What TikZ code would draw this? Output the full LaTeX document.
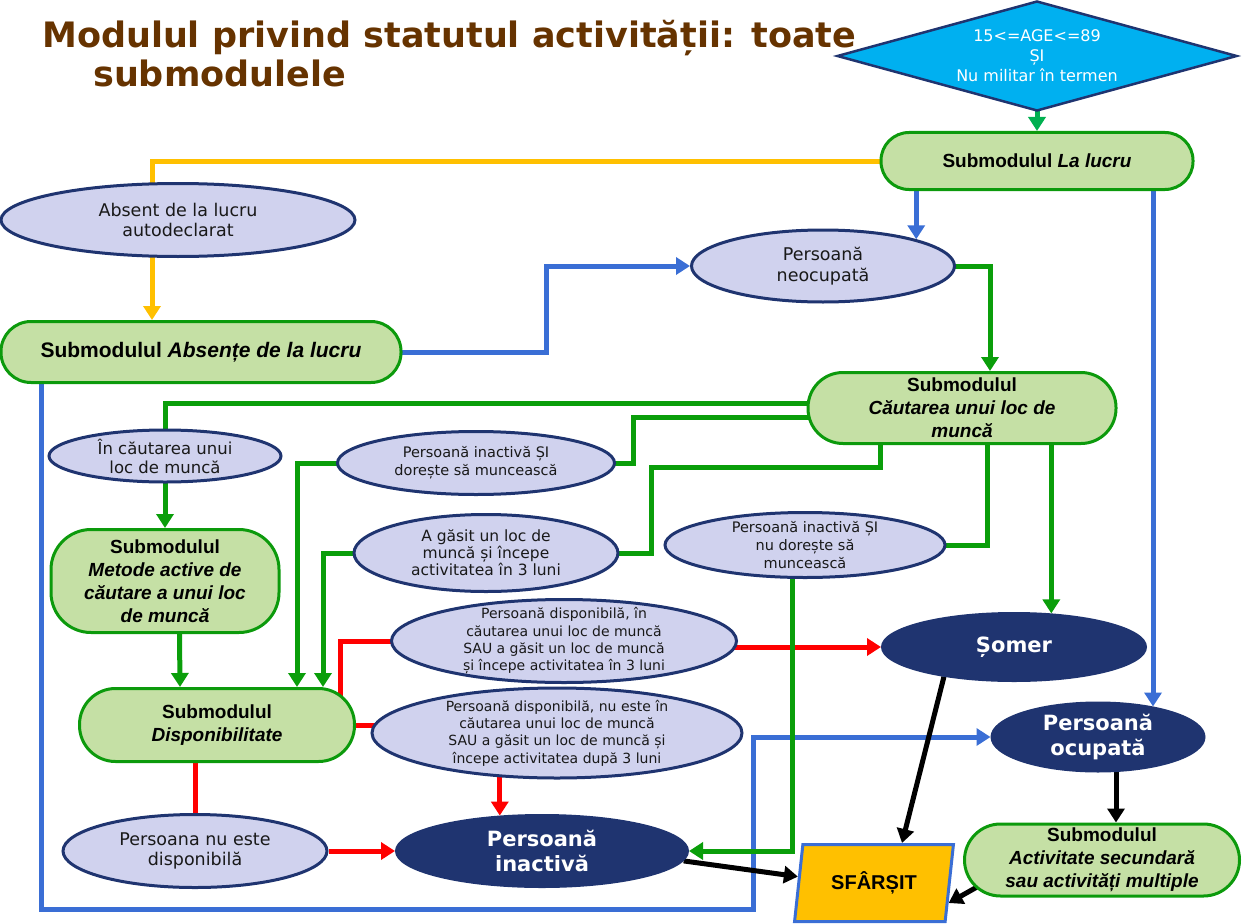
\documentclass[tikz,border=0pt]{standalone}
\usepackage{fontspec}
\setmainfont{DejaVu Sans}
\newfontfamily\arialfont{Liberation Sans}
\usetikzlibrary{shapes.geometric,arrows.meta,calc,backgrounds}
\definecolor{navy}{HTML}{1F3470}
\definecolor{lav}{HTML}{D0D2EE}
\definecolor{subfill}{HTML}{C5E0A5}
\definecolor{subline}{HTML}{0C9A0C}
\definecolor{gline}{HTML}{0A9E0A}
\definecolor{sea}{HTML}{00B050}
\definecolor{bline}{HTML}{3A6ED5}
\definecolor{yline}{HTML}{FFC000}
\definecolor{rline}{HTML}{FF0000}
\definecolor{sky}{HTML}{00B0F0}
\definecolor{amber}{HTML}{FFC000}
\definecolor{brown}{HTML}{663300}
\tikzset{
  title/.style={anchor=north west, inner sep=0pt, align=left, text=brown, font=\fontsize{35}{39}\selectfont\bfseries},
  sub/.style={rectangle, rounded corners=#1, draw=subline, fill=subfill, line width=3pt, align=center, inner sep=0pt, font=\fontsize{19}{23}\selectfont\arialfont\bfseries},
  sub/.default=30pt,
  state/.style={ellipse, draw=navy, fill=lav, line width=3pt, align=center, inner sep=0pt, text=black!90, font=\fontsize{14.5}{18}\selectfont},
  result/.style={ellipse, draw=navy, fill=navy, line width=2pt, align=center, inner sep=0pt, text=white, font=\fontsize{21}{25}\selectfont\bfseries},
  cond/.style={diamond, aspect=3.6, draw=navy, fill=sky, line width=2.5pt, align=center, inner sep=0pt, text=white, minimum width=400pt, minimum height=110pt, font=\fontsize{16}{20}\selectfont},
  endbox/.style={trapezium, trapezium left angle=77.5, trapezium right angle=102.5, trapezium stretches=true, draw=bline, fill=amber, line width=3pt, inner sep=0pt, minimum width=160pt, minimum height=77pt, font=\fontsize{20}{24}\selectfont\arialfont\bfseries},
  arr/.style={-{Triangle[length=14pt,width=17pt]}},
  gpath/.style={draw=gline, line width=5pt},
  bpath/.style={draw=bline, line width=5pt},
  ypath/.style={draw=yline, line width=5pt},
  rpath/.style={draw=rline, line width=5pt},
  kpath/.style={draw=black, line width=5pt}
}
\begin{document}
\begin{tikzpicture}[x=1pt, y=-1pt]
  \useasboundingbox (0,0) rectangle (1244,923);
  \node[title] (title) at (42,20) {Modulul privind statutul activității: toate\\\hspace*{51pt}submodulele};

  \node[cond] (cond) at (1037,56) {15<=AGE<=89\\ȘI\\Nu militar în termen};
  \node[sub=28pt, minimum width=312pt, minimum height=57pt] (lucru) at (1037,161) {Submodulul \textit{La lucru}};
  \node[state, minimum width=354pt, minimum height=73pt, font=\fontsize{17.5}{20.5}\selectfont] (absent) at (178,220) {Absent de la lucru\\autodeclarat};
  \node[sub=30pt, minimum width=400pt, minimum height=61pt, font=\fontsize{21}{24}\selectfont\arialfont\bfseries] (absente) at (201,352) {Submodulul \textit{Absențe de la lucru}};
  \node[state, minimum width=263pt, minimum height=72pt, font=\fontsize{17.5}{20.5}\selectfont] (neocup) at (823,266) {Persoană\\neocupată};
  \node[sub=35pt, minimum width=308pt, minimum height=71pt] (cautare) at (962,408) {Submodulul\\\textit{Căutarea unui loc de}\\\textit{muncă}};
  \node[state, minimum width=232pt, minimum height=52pt, font=\fontsize{16.5}{19}\selectfont] (incaut) at (165,456) {În căutarea unui\\loc de muncă};
  \node[state, minimum width=277pt, minimum height=63pt] (dorest) at (476,463) {Persoană inactivă ȘI\\dorește să muncească};
  \node[sub=40pt, minimum width=228pt, minimum height=103pt] (metode) at (165,581) {Submodulul\\\textit{Metode active de}\\\textit{căutare a unui loc}\\\textit{de muncă}};
  \node[state, minimum width=264pt, minimum height=77pt, font=\fontsize{15.5}{17}\selectfont] (gasit) at (486,553) {A găsit un loc de\\muncă și începe\\activitatea în 3 luni};
  \node[state, minimum width=280pt, minimum height=65pt, inner ysep=-3.5pt] (nudor) at (805,545) {Persoană inactivă ȘI\\nu dorește să\\muncească};
  \node[state, minimum width=345pt, minimum height=83pt, inner ysep=-5pt, font=\fontsize{14}{17.3}\selectfont] (dispin) at (564,641) {Persoană disponibilă, în\\căutarea unui loc de muncă\\SAU a găsit un loc de muncă\\și începe activitatea în 3 luni};
  \node[result, minimum width=264pt, minimum height=68pt] (somer) at (1014,647) {Șomer};
  \node[sub=36pt, minimum width=275pt, minimum height=73pt] (dispon) at (217,725) {Submodulul\\\textit{Disponibilitate}};
  \node[state, minimum width=370pt, minimum height=90pt, inner ysep=-3pt, font=\fontsize{14}{17.4}\selectfont] (dispnu) at (557,733) {Persoană disponibilă, nu este în\\căutarea unui loc de muncă\\SAU a găsit un loc de muncă și\\începe activitatea după 3 luni};
  \node[result, minimum width=213pt, minimum height=69pt] (ocup) at (1098,737) {Persoană\\ocupată};
  \node[state, minimum width=264pt, minimum height=73pt, font=\fontsize{17.5}{20.5}\selectfont] (nudisp) at (195,851) {Persoana nu este\\disponibilă};
  \node[result, minimum width=292pt, minimum height=72pt] (inact) at (542,851) {Persoană\\inactivă};
  \node[endbox] (sfarsit) at (874,883) {SFÂRȘIT};
  \node[sub=36pt, minimum width=275pt, minimum height=72pt] (secund) at (1102,860) {Submodulul\\\textit{Activitate secundară}\\\textit{sau activități multiple}};

  \begin{scope}[on background layer]
    \draw[ypath] (lucru.center) -| ([xshift=-26pt]absent.center);
    \draw[ypath, arr] ([xshift=-26pt]absent.center) -- ([xshift=-49pt]absente.north);
    \draw[gpath, draw=sea, arr] (cond.center) -- (lucru.north);

    \draw[bpath, arr] (lucru.center -| neocup.16) -- (neocup.16);
    \draw[bpath, arr] (absente.center) -| ($(absente.east)!.5!(neocup.west)$) |- (neocup.west);
    \draw[bpath, arr] (lucru.center -| ocup.29) -- (ocup.29);
    \draw[bpath, arr] ([xshift=-160pt]absente.center) |- (753,909) |- (ocup.west);

    \draw[rpath] ([xshift=123pt]dispon.center) |- (dispin.center);
    \draw[rpath] (dispon.center) -- (dispon.center -| dispnu.center);
    \draw[rpath, arr] (dispin.center |- somer.west) -- (somer.west);
    \draw[rpath, arr] (dispnu.center -| inact.140) -- (inact.140);
    \draw[rpath] (dispon.center -| nudisp.north) -- (nudisp.north);
    \draw[rpath, arr] (nudisp.east) -- (inact.west);

    \draw[gpath, arr] (neocup.center) -| ([xshift=28pt]cautare.north);
    \draw[gpath] ([yshift=5pt]cautare.center) -| (incaut.center);
    \draw[gpath] ([yshift=-9pt]cautare.center) -| ([xshift=17pt]dorest.east) -- (dorest.center);
    \draw[gpath] ([xshift=-82pt]cautare.center) |- (651,467) |- (gasit.center);
    \draw[gpath] ([xshift=25pt]cautare.center) |- (nudor.center);
    \draw[gpath, arr] (cautare.center -| somer.42) -- (somer.42);
    \draw[gpath, arr] (incaut.center) -- (metode.north);
    \draw[gpath, arr] ([xshift=14pt]metode.center) -- ([xshift=-37pt]dispon.north);
    \draw[gpath, arr] (dorest.center) -| ([xshift=80pt]dispon.north);
    \draw[gpath, arr] (gasit.center) -| ([xshift=106pt]dispon.north);
    \draw[gpath, arr] ([xshift=-13pt]nudor.center) |- (inact.east);

    \draw[kpath, arr] (somer.203) -- ([xshift=28pt]sfarsit.north);
    \draw[kpath, arr] ([xshift=18pt]ocup.center) -- ([xshift=14pt]secund.north);
    \draw[kpath, arr] ([xshift=-125pt,yshift=-27pt]secund.center) -- ($(sfarsit.top right corner)!.75!(sfarsit.bottom right corner)$);
    \draw[kpath, arr] (inact.356) -- ($(sfarsit.top left corner)!.42!(sfarsit.bottom left corner)$);
  \end{scope}
\end{tikzpicture}
\end{document}
